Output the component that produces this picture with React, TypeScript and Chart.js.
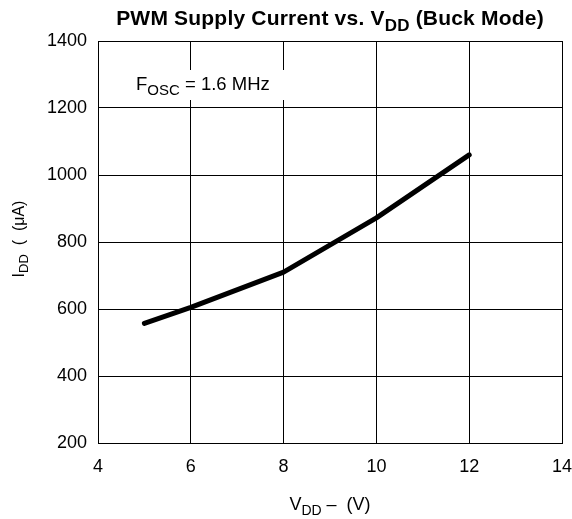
import React, { useEffect, useRef } from "react";
import { Chart, registerables } from "chart.js";

Chart.register(...registerables);

const vdd = [5, 6, 8, 10, 12];
const idd = [557, 605, 710, 872, 1060];
const xMin = 4;
const xMax = 14;
const xStep = 2;
const yMin = 200;
const yMax = 1400;
const yStep = 200;

const FONT = "'Liberation Sans', Arial, Helvetica, sans-serif";

type Seg = { t: string; sub?: boolean };

function drawSegs(
  ctx: CanvasRenderingContext2D,
  segs: Seg[],
  x: number,
  y: number,
  size: number,
  bold: boolean,
  align: "center" | "left",
  spacing = 0
) {
  const mainF = `${bold ? "bold " : ""}${size}px ${FONT}`;
  const subSize = Math.round(size * 0.8);
  const subF = `${bold ? "bold " : ""}${subSize}px ${FONT}`;
  (ctx as any).letterSpacing = `${spacing}px`;
  const widths = segs.map((s) => {
    ctx.font = s.sub ? subF : mainF;
    return ctx.measureText(s.t).width;
  });
  const total = widths.reduce((a, b) => a + b, 0);
  let cx = align === "center" ? x - total / 2 : x;
  ctx.textAlign = "left";
  ctx.textBaseline = "alphabetic";
  ctx.fillStyle = "#000";
  segs.forEach((s, i) => {
    ctx.font = s.sub ? subF : mainF;
    ctx.fillText(s.t, cx, s.sub ? y + size * 0.28 : y);
    cx += widths[i];
  });
  (ctx as any).letterSpacing = "0px";
}

const textPlugin = {
  id: "texts",
  afterDraw(chart: any) {
    const ctx: CanvasRenderingContext2D = chart.ctx;
    const area = chart.chartArea;
    const cx = (area.left + area.right) / 2;
    ctx.save();
    // title
    drawSegs(
      ctx,
      [{ t: "PWM Supply Current vs. V" }, { t: "DD", sub: true }, { t: " (Buck Mode)" }],
      cx,
      area.top - 16,
      21,
      true,
      "center",
      0.2
    );
    // annotation box
    ctx.fillStyle = "#fff";
    ctx.fillRect(area.left + 28, area.top + 29, 166, 30);
    drawSegs(
      ctx,
      [{ t: "F" }, { t: "OSC", sub: true }, { t: " = 1.6 MHz" }],
      area.left + 38,
      area.top + 49,
      18.5,
      false,
      "left"
    );
    // x title
    drawSegs(
      ctx,
      [{ t: "V" }, { t: "DD", sub: true }, { t: " \u2013  (V)" }],
      cx,
      area.bottom + 67,
      18,
      false,
      "center"
    );
    // y title
    ctx.translate(24, 239);
    ctx.rotate(-Math.PI / 2);
    drawSegs(
      ctx,
      [{ t: "I" }, { t: "DD", sub: true }, { t: "  (  (\u03bcA)" }],
      0,
      0,
      16,
      false,
      "center"
    );
    ctx.restore();
  },
};

export default function App() {
  const ref = useRef<HTMLCanvasElement>(null);
  useEffect(() => {
    if (!ref.current) return;
    const chart = new Chart(ref.current, {
      type: "line",
      data: {
        datasets: [
          {
            data: vdd.map((v, i) => ({ x: v, y: idd[i] })),
            borderColor: "#000",
            borderWidth: 5,
            borderCapStyle: "round",
            borderJoinStyle: "round",
            pointRadius: 0,
            tension: 0,
            fill: false,
          },
        ],
      },
      options: {
        responsive: true,
        maintainAspectRatio: false,
        animation: false,
        layout: { padding: { top: 41, right: 10, left: 0, bottom: 0 } },
        plugins: {
          legend: { display: false },
          tooltip: { enabled: false },
          title: { display: false },
        },
        scales: {
          x: {
            type: "linear",
            min: xMin,
            max: xMax,
            ticks: {
              stepSize: xStep,
              color: "#000",
              font: { family: FONT, size: 18 },
              padding: 13,
              maxRotation: 0,
              callback: (v: any) => String(v),
            },
            grid: { color: "#000", lineWidth: 1, drawTicks: false },
            border: { color: "#000", width: 1 },
            afterFit: (s: any) => {
              s.height = 76;
              s.paddingLeft = 0;
              s.paddingRight = 0;
            },
          },
          y: {
            type: "linear",
            min: yMin,
            max: yMax,
            ticks: {
              stepSize: yStep,
              color: "#000",
              font: { family: FONT, size: 18 },
              padding: 11,
              callback: (v: any) => String(v),
            },
            grid: { color: "#000", lineWidth: 1, drawTicks: false },
            border: { color: "#000", width: 1 },
            afterFit: (s: any) => {
              s.width = 98;
              s.paddingTop = 0;
              s.paddingBottom = 0;
            },
          },
        },
      },
      plugins: [textPlugin],
    });
    return () => chart.destroy();
  }, []);
  return (
    <div style={{ position: "absolute", left: 0, top: 0, width: 572, height: 519, background: "#fff" }}>
      <canvas ref={ref} />
    </div>
  );
}
